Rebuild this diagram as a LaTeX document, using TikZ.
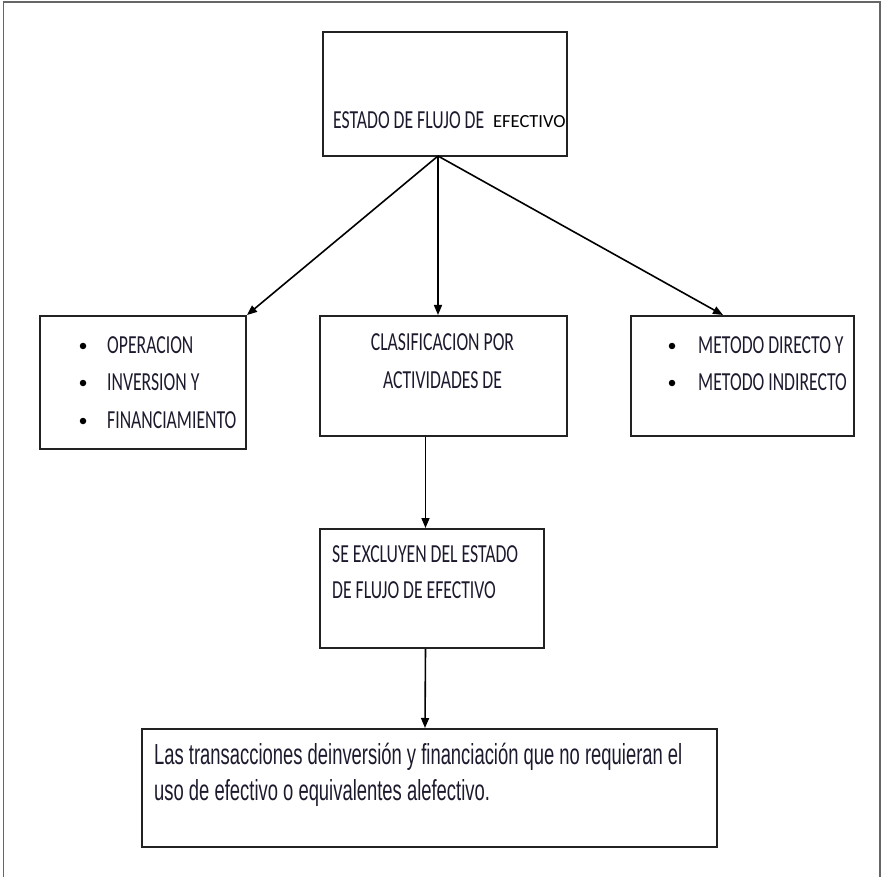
\documentclass[tikz,border=0pt]{standalone}
\usepackage{fontspec}
\usetikzlibrary{arrows.meta}
\newfontfamily\cond[FakeStretch=0.68]{Carlito}
\newfontfamily\plain{Carlito}
\newfontfamily\narrowf[FakeStretch=0.635]{Liberation Sans}
\definecolor{ink}{HTML}{1E1A2E}
\definecolor{edge}{HTML}{222222}
\begin{document}
\begin{tikzpicture}[x=1pt,y=-1pt,
  boxst/.style={draw=edge,line width=2pt,fill=white,inner sep=0pt,anchor=north west},
  lbl/.style={inner sep=0pt,anchor=base west,text=ink,font=\cond\fontsize{26}{30}\selectfont},
  lblc/.style={inner sep=0pt,anchor=base,text=ink,font=\cond\fontsize{26}{30}\selectfont},
  bul/.style={circle,fill=black,inner sep=0pt,minimum size=6.5pt},
  arr/.style={draw=black,line width=1.6pt,-{Triangle[length=10pt,width=8pt]}}]
\useasboundingbox (0,0) rectangle (881,877);
\fill[white] (0,0) rectangle (881,877);
\draw[color=black!60,line width=1.6pt] (3.5,877) -- (3.5,2) -- (880,2) -- (880,877);
% boxes
\node[boxst,minimum width=244pt,minimum height=124pt] (top) at (322,31) {};
\node[boxst,minimum width=206pt,minimum height=133pt] (left) at (39,315) {};
\node[boxst,minimum width=247pt,minimum height=120pt] (ctr) at (319,315) {};
\node[boxst,minimum width=223pt,minimum height=120pt] (right) at (630,315) {};
\node[boxst,minimum width=224pt,minimum height=119pt] (ex) at (319,528) {};
\node[boxst,minimum width=575pt,minimum height=118pt] (bot) at (141,728) {};
% texts
\node[lbl] (t1) at (333,129) {ESTADO DE FLUJO DE};
\node[inner sep=0pt,anchor=base west,text=black,font=\plain\fontsize{18.5}{22}\selectfont] (t2) at (493,127.5) {EFECTIVO};
\node[bul] (b1) at (83,346) {};
\node[bul] (b2) at (83,383) {};
\node[bul] (b3) at (83,421) {};
\node[lbl] (l1) at (107,353) {OPERACION};
\node[lbl] (l2) at (107,390) {INVERSION Y};
\node[lbl] (l3) at (107,428) {FINANCIAMIENTO};
\node[lblc] (c1) at (442.5,351) {CLASIFICACION POR};
\node[lblc] (c2) at (442.5,388.5) {ACTIVIDADES DE};
\node[bul] (b4) at (672,346) {};
\node[bul] (b5) at (672,383) {};
\node[lbl] (r1) at (698,353) {METODO DIRECTO Y};
\node[lbl] (r2) at (698,390) {METODO INDIRECTO};
\node[lbl] (e1) at (332,562) {SE EXCLUYEN DEL ESTADO};
\node[lbl] (e2) at (332,598.5) {DE FLUJO DE EFECTIVO};
\node[inner sep=0pt,anchor=base west,text=ink,font=\narrowf\fontsize{29}{35}\selectfont] (f1) at (154,764) {Las transacciones deinversión y financiación que no requieran el};
\node[inner sep=0pt,anchor=base west,text=ink,font=\narrowf\fontsize{29}{35}\selectfont] (f2) at (154,800) {uso de efectivo o equivalentes alefectivo.};
% connectors
\coordinate (hub) at (438,156);
\draw[arr] (hub) -- (left.north east);
\draw[arr] (hub) -- (hub |- ctr.north);
\draw[arr] (hub) -- ([xshift=93pt]right.north west);
\draw[arr] ([xshift=106.5pt]ctr.south west) -- ([xshift=106.5pt]ex.north west);
\draw[arr] ([xshift=106.5pt]ex.south west) -- ([xshift=284pt]bot.north west);
\end{tikzpicture}
\end{document}
